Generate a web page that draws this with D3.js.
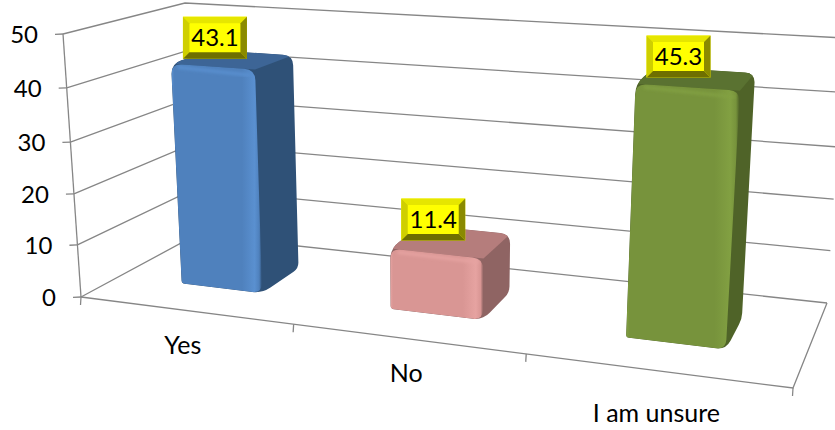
<!DOCTYPE html>
<html><head><meta charset="utf-8">
<script src="https://cdn.jsdelivr.net/npm/d3@7"></script>
<style>html,body{margin:0;padding:0;background:#fff;overflow:hidden}svg{display:block}text{font-family:Lato,"Open Sans",sans-serif;fill:#000}</style>
</head><body><svg id="c" width="835" height="430"></svg>
<script>
const categories = ["Yes", "No", "I am unsure"];
const values = [43.1, 11.4, 45.3];
const valueTicks = [0, 10, 20, 30, 40, 50];
const frontColors = ["#4f81bd", "#d99694", "#77933c"];
const sideColors = ["#2f5177", "#8f6463", "#4f6328"];
const topColors = ["#3d6596", "#b57d7c", "#5a7231"];
const lightColors = ["#5a90d0", "#e6a3a1", "#82a042"];

// Perspective box of the plot: floor and ceiling corners on screen
const box = {
  floor: {fl:[81,297], fr:[793,388], bl:[196,235], br:[827,303]},
  top:   {fl:[63,34],  fr:[814,84],  bl:[185,3],   br:[844,38]}
};
// Foreshortening calibration
const tScale = d3.scaleLinear().domain(valueTicks).range([0,.198,.392,.589,.795,1]);
const uScale = d3.scaleLinear()
  .domain([0,.05,.283,.333,.383,.617,.667,.717,.95,1])
  .range([0,.09,.207,.298,.395,.53,.626,.74,.885,1]);
const band = d3.scaleBand().domain(categories).range([0,1]).paddingInner(0);
const lerp = (a,b,k)=>[a[0]+(b[0]-a[0])*k, a[1]+(b[1]-a[1])*k];
function project(u,w,v){
  const f=lerp(lerp(box.floor.fl,box.floor.fr,u),lerp(box.floor.bl,box.floor.br,u),w);
  const t=lerp(lerp(box.top.fl,box.top.fr,u),lerp(box.top.bl,box.top.br,u),w);
  return lerp(f,t,tScale(v));
}
const svg=d3.select("#c"), defs=svg.append("defs");
const line=d3.line();
const gridCol="#868686";

// walls
const grid=svg.append("g").attr("fill","none").attr("stroke",gridCol).attr("stroke-width",1.3);
valueTicks.forEach(v=>{
  grid.append("path").attr("d",line([project(0,0,v),project(0,1,v),project(1,1,v)]));
  const p=project(0,0,v);
  grid.append("path").attr("d",line([[p[0]-8,p[1]+.3],p]));
  svg.append("text").attr("x",p[0]-25).attr("y",p[1]+9).attr("text-anchor","end")
     .attr("font-size",24).text(v);
});
grid.append("path").attr("d",line([project(0,0,0),project(0,0,50)]));
grid.append("path").attr("d",line([project(0,0,0),project(1,0,0),project(1,1,0)]));
[0,1/3,2/3,1].forEach(b=>{
  const p=project(uScale(b),0,0);
  grid.append("path").attr("d",line([p,[p[0]-.5,p[1]+8]]));
});

// category labels
const catShift=[[-4,43],[-4,43],[-3,51]];
categories.forEach((c,i)=>{
  const p=project(uScale(band(c)+band.bandwidth()/2),0,0);
  svg.append("text").attr("x",p[0]+catShift[i][0]).attr("y",p[1]+catShift[i][1])
    .attr("text-anchor","middle").attr("font-size",25).text(c);
});

function rounded(pts,radii){
  const n=pts.length; let d="";
  pts.forEach((p,i)=>{
    const a=pts[(i-1+n)%n], b=pts[(i+1)%n], r=radii[i];
    const la=Math.hypot(a[0]-p[0],a[1]-p[1]), lb=Math.hypot(b[0]-p[0],b[1]-p[1]);
    const s=lerp(p,a,Math.min(.5,r/la)), e=lerp(p,b,Math.min(.5,r/lb));
    d+=(i?"L":"M")+s[0]+","+s[1]+"Q"+p[0]+","+p[1]+" "+e[0]+","+e[1];
  });
  return d+"Z";
}
const soft=defs.append("filter").attr("id","soft").attr("x","-20%").attr("y","-20%").attr("width","140%").attr("height","140%");
soft.append("feGaussianBlur").attr("stdDeviation",1.6);

const W0=.34,W1=.71;
const labelBox={w:64,h:42};
categories.forEach((c,i)=>{
  const x0=band(c)+band.bandwidth()*.15, x1=band(c)+band.bandwidth()*.85;
  const u0=uScale(x0), u1=uScale(x1), v=values[i];
  const fbl=project(u0,W0,0), fbr=project(u1,W0,0), bbr=project(u1,W1,0);
  const ftl=project(u0,W0,v), ftr=project(u1,W0,v), btl=project(u0,W1,v), btr=project(u1,W1,v);
  const g=svg.insert("g","g.lbl");
  const id="clip"+i;
  const sil=rounded([ftl,btl,btr,bbr,fbr,fbl],[11,10,10,6,10,3]);
  defs.append("clipPath").attr("id",id).append("path").attr("d",sil);
  g.append("path").attr("d",sil).attr("fill",sideColors[i]);
  const inner=g.append("g").attr("clip-path",`url(#${id})`);
  inner.append("path").attr("d",line([ftl,btl,btr,ftr])+"Z").attr("fill",topColors[i]);
  const gid="grad"+i;
  const gr=defs.append("linearGradient").attr("id",gid);
  [[0,lightColors[i]],[.03,frontColors[i]],[.78,frontColors[i]],[.92,lightColors[i]],[.97,frontColors[i]],[1,sideColors[i]]]
    .forEach(s=>gr.append("stop").attr("offset",s[0]).attr("stop-color",s[1]));
  const fp=rounded([ftl,ftr,fbr,fbl],[11,11,10,3]);
  inner.append("path").attr("d",fp).attr("fill",`url(#${gid})`);
  // top-edge highlight
  const b=lerp(ftr,fbr,.012);
  inner.append("path").attr("d",line([lerp(ftl,ftr,.08).map((d,k)=>d+(k?3:0)),[b[0]-5,b[1]+3]]))
    .attr("stroke",lightColors[i]).attr("stroke-width",3).attr("fill","none").attr("filter","url(#soft)");

  // value label
  const m=lerp(lerp(ftl,ftr,.5),lerp(btl,btr,.5),.5);
  const cx=m[0]-18, cy=m[1]-22;
  const L=labelBox, x=cx-L.w/2, y=cy-L.h/2, e=6.5;
  const lg=svg.append("g").attr("class","lbl");
  const R=x+L.w, B=y+L.h;
  lg.append("rect").attr("x",x).attr("y",y).attr("width",L.w).attr("height",L.h).attr("fill","#ffff00");
  lg.append("path").attr("d",line([[x,y],[R,y],[R-e,y+e],[x+e,y+e]])+"Z").attr("fill","#e6e600");
  lg.append("path").attr("d",line([[x,y],[x+e,y+e],[x+e,B-e],[x,B]])+"Z").attr("fill","#cfcf00");
  lg.append("path").attr("d",line([[R,y],[R,B],[R-e,B-e],[R-e,y+e]])+"Z").attr("fill","#8a8a00");
  lg.append("path").attr("d",line([[x,B],[R,B],[R-e,B-e],[x+e,B-e]])+"Z").attr("fill","#6f6f00");
  lg.append("text").attr("x",cx).attr("y",cy+8.5).attr("text-anchor","middle").attr("font-size",24).text(v.toFixed(1));
});
</script></body></html>
